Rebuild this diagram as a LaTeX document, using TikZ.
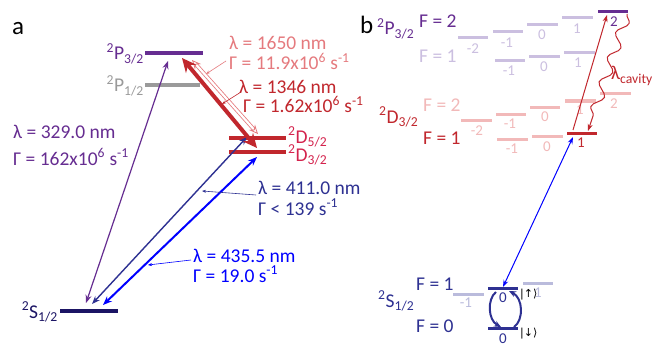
\documentclass[tikz,border=0pt]{standalone}
\usepackage{fontspec}
\setmainfont{Carlito}
\newfontfamily\symfont{DejaVu Sans}
\usetikzlibrary{arrows.meta,decorations.pathmorphing}
\definecolor{cpurple}{HTML}{662D91}
\definecolor{lpurple}{HTML}{CBBFE0}
\definecolor{cgray}{HTML}{9A9A9A}
\definecolor{cred}{HTML}{C1272D}
\definecolor{dred}{HTML}{D4234D}
\definecolor{lred}{HTML}{E57A7E}
\definecolor{pred}{HTML}{F2B9B9}
\definecolor{cnavy}{HTML}{2E3192}
\definecolor{dnavy}{HTML}{1B1464}
\definecolor{lnavy}{HTML}{BABBDC}
\definecolor{cblue}{HTML}{0000FF}
\tikzset{
  lbl/.style={font=\fontsize{19.5}{22}\selectfont, inner sep=0pt},
  mlbl/.style={font=\fontsize{15}{17}\selectfont, inner sep=0pt},
  big/.style={font=\fontsize{25}{28}\selectfont, inner sep=0pt},
  ket/.style={font=\symfont\fontsize{11}{12}\selectfont, inner sep=0pt, anchor=west},
  lev/.style={line width=4pt},
  flev/.style={line width=3pt},
  leader/.style={line width=0.6pt,-{Stealth[length=4pt,width=3pt]}},
}
\begin{document}
\begin{tikzpicture}[x=1pt,y=-1pt]
\path[use as bounding box,fill=white] (0,0) rectangle (667,345);
% ===== panel a =====
\node[big,anchor=base west] (la) at (12,35) {a};
% levels
\draw[lev,cpurple] (145,53) coordinate (p3l) -- (203,53) coordinate (p3r);
\draw[lev,cgray] (145,85) coordinate (p1l) -- (200,85) coordinate (p1r);
\draw[lev,cred] (229,138) coordinate (d5l) -- (286,138) coordinate (d5r);
\draw[lev,cred] (229,152) coordinate (d3l) -- (286,152) coordinate (d3r);
\draw[lev,dnavy] (60,311) coordinate (sl) -- (118,311) coordinate (sr);
\node[lbl,anchor=base east,text=cpurple] (tp3) at (144,60) {\textsuperscript{2}P\textsubscript{3/2}};
\node[lbl,anchor=base east,text=cgray] (tp1) at (144,92) {\textsuperscript{2}P\textsubscript{1/2}};
\node[lbl,anchor=base west,text=dred] (td5) at (288,143) {\textsuperscript{2}D\textsubscript{5/2}};
\node[lbl,anchor=base west,text=dred] (td3) at (288,161) {\textsuperscript{2}D\textsubscript{3/2}};
\node[lbl,anchor=base east,text=dnavy] (ts) at (58,318) {\textsuperscript{2}S\textsubscript{1/2}};
% arrow end points
\coordinate (a329b) at (86,303); \coordinate (a329t) at (168,61);
\coordinate (a411b) at (92,304); \coordinate (a411t) at (247,137);
\coordinate (a435b) at (103,305); \coordinate (a435t) at (257,157);
\coordinate (a1346t) at (182,58); \coordinate (a1346b) at (257,148);
\coordinate (a1650t) at (192,60); \coordinate (a1650b) at (258,134);
% transitions
\draw[cpurple,line width=1.2pt,{Stealth[length=8pt,width=6pt]}-{Stealth[length=8pt,width=6pt]}] (a329b) -- (a329t);
\draw[cnavy,line width=1.4pt,{Stealth[length=8pt,width=6pt]}-{Stealth[length=8pt,width=6pt]}] (a411b) -- (a411t);
\draw[cblue,line width=2pt,{Stealth[length=9pt,width=7pt]}-{Stealth[length=9pt,width=7pt]}] (a435b) -- (a435t);
\draw[lred,line width=0.8pt,double=white,double distance=2.2pt,{Stealth[open,length=9pt,width=8pt]}-{Stealth[open,length=9pt,width=8pt]}] (a1650t) -- (a1650b);
\draw[cred,line width=4pt,{Stealth[length=14pt,width=13pt]}-{Stealth[length=14pt,width=13pt]}] (a1346t) -- (a1346b);
% labels
\node[lbl,anchor=base west,text=lred] (l1650) at (229,50) {λ = 1650 nm};
\node[lbl,anchor=base west,text=lred] (g1650) at (229,70) {Γ = 11.9x10\textsuperscript{6} s\textsuperscript{-1}};
\node[lbl,anchor=base west,text=cred] (l1346) at (239,94) {λ = 1346 nm};
\node[lbl,anchor=base west,text=cred] (g1346) at (243,113) {Γ = 1.62x10\textsuperscript{6} s\textsuperscript{-1}};
\node[lbl,anchor=base west,text=cpurple] (l329) at (13,138) {λ = 329.0 nm};
\node[lbl,anchor=base west,text=cpurple] (g329) at (13,165) {Γ = 162x10\textsuperscript{6} s\textsuperscript{-1}};
\node[lbl,anchor=base west,text=cnavy] (l411) at (258,194) {λ = 411.0 nm};
\node[lbl,anchor=base west,text=cnavy] (g411) at (258,215) {Γ < 139 s\textsuperscript{-1}};
\node[lbl,anchor=base west,text=cblue] (l435) at (193,262) {λ = 435.5 nm};
\node[lbl,anchor=base west,text=cblue] (g435) at (193,282) {Γ = 19.0 s\textsuperscript{-1}};
% leaders
\coordinate (k1650a) at (226,61); \coordinate (k1650b) at (206,74);
\coordinate (k1346a) at (241,92); \coordinate (k1346b) at (222,104);
\coordinate (k411a) at (256,195); \coordinate (k411b) at (202,191);
\coordinate (k435a) at (191,260); \coordinate (k435b) at (148,265);
\draw[leader,lred] (k1650a) -- (k1650b);
\draw[leader,cred] (k1346a) -- (k1346b);
\draw[leader,cnavy] (k411a) -- (k411b);
\draw[leader,cblue] (k435a) -- (k435b);
% ===== panel b =====
\node[big,anchor=base west] (lb) at (360,34) {b};
\node[lbl,anchor=base west,text=cpurple] (bp3) at (377,35) {\textsuperscript{2}P\textsubscript{3/2}};
\node[lbl,anchor=base west,text=cpurple] (bpF2) at (419,28) {F = 2};
\node[lbl,anchor=base west,text=lpurple] (bpF1) at (419,63) {F = 1};
% P F=2
\draw[flev,lpurple] (458,38) coordinate (pa1) -- (488,38) coordinate (pa2);
\draw[flev,lpurple] (493,32) coordinate (pb1) -- (523,32) coordinate (pb2);
\draw[flev,lpurple] (527,25) coordinate (pc1) -- (558,25) coordinate (pc2);
\draw[flev,lpurple] (562,18) coordinate (pd1) -- (593,18) coordinate (pd2);
\draw[flev,cpurple] (598,12) coordinate (pe1) -- (628,12) coordinate (pe2);
\node[mlbl,text=lpurple] (mpa) at (473,49) {-2};
\node[mlbl,text=lpurple] (mpb) at (507,43) {-1};
\node[mlbl,text=lpurple] (mpc) at (542,35) {0};
\node[mlbl,text=lpurple] (mpd) at (577,29) {1};
\node[mlbl,text=cpurple] (mpe) at (614,22) {2};
% P F=1
\draw[flev,lpurple] (495,61) coordinate (pf1) -- (525,61) coordinate (pf2);
\draw[flev,lpurple] (529,57) coordinate (pg1) -- (560,57) coordinate (pg2);
\draw[flev,lpurple] (564,53) coordinate (ph1) -- (595,53) coordinate (ph2);
\node[mlbl,text=lpurple] (mpf) at (509,71) {-1};
\node[mlbl,text=lpurple] (mpg) at (544,67) {0};
\node[mlbl,text=lpurple] (mph) at (578,63) {1};
% D3/2
\node[lbl,anchor=base west,text=cred] (bd3) at (379,123) {\textsuperscript{2}D\textsubscript{3/2}};
\node[lbl,anchor=base west,text=pred] (bdF2) at (423,111) {F = 2};
\node[lbl,anchor=base west,text=cred] (bdF1) at (423,144) {F = 1};
\draw[flev,pred] (461,120) coordinate (da1) -- (492,120) coordinate (da2);
\draw[flev,pred] (496,114) coordinate (db1) -- (526,114) coordinate (db2);
\draw[flev,pred] (530,107) coordinate (dc1) -- (560,107) coordinate (dc2);
\draw[flev,pred] (565,101) coordinate (dd1) -- (596,101) coordinate (dd2);
\draw[flev,pred] (600,94) coordinate (de1) -- (631,94) coordinate (de2);
\node[mlbl,text=pred] (mda) at (477,131) {-2};
\node[mlbl,text=pred] (mdb) at (510,124) {-1};
\node[mlbl,text=pred] (mdc) at (545,117) {0};
\node[mlbl,text=pred] (mdd) at (580,110) {1};
\node[mlbl,text=pred] (mde) at (614,104) {2};
\draw[flev,pred] (497,139) coordinate (df1) -- (528,139) coordinate (df2);
\draw[flev,pred] (532,136) coordinate (dg1) -- (563,136) coordinate (dg2);
\draw[flev,cred] (567,133) coordinate (dh1) -- (597,133) coordinate (dh2);
\node[mlbl,text=pred] (mdf) at (512,149) {-1};
\node[mlbl,text=pred] (mdg) at (547,147) {0};
\node[mlbl,text=cred] (mdh) at (581,143) {1};
% S1/2
\node[lbl,anchor=base west,text=cnavy] (bs) at (378,307) {\textsuperscript{2}S\textsubscript{1/2}};
\node[lbl,anchor=base west,text=cnavy] (bsF1) at (416,290) {F = 1};
\node[lbl,anchor=base west,text=cnavy] (bsF0) at (416,332) {F = 0};
\draw[flev,lnavy] (453,294) coordinate (sa1) -- (484,294) coordinate (sa2);
\draw[flev,cnavy] (488,288) coordinate (sb1) -- (518,288) coordinate (sb2);
\draw[flev,lnavy] (523,283) coordinate (sc1) -- (553,283) coordinate (sc2);
\draw[flev,cnavy] (488,328) coordinate (sd1) -- (518,328) coordinate (sd2);
\node[mlbl,text=lnavy] (msa) at (466,303) {-1};
\node[mlbl,text=cnavy] (msb) at (503,298) {0};
\node[mlbl,text=lnavy] (msc) at (538,293) {1};
\node[mlbl,text=cnavy,anchor=base] (msd) at (503,343) {0};
\node[ket] (kup) at (520,295) {|↑⟩};
\node[ket] (kdn) at (520,334) {|↓⟩};
% transitions in b
\coordinate (rb) at (573,130); \coordinate (rt) at (607,15);
\draw[cred,line width=1pt,-{Stealth[length=7pt,width=5pt]}] (rb) -- (rt);
\coordinate (wt) at (627,14); \coordinate (wb) at (588,131);
\draw[cred,line width=1pt,decorate,decoration={snake,amplitude=5pt,segment length=26pt,post length=8pt},-{Stealth[length=7pt,width=5pt]}] (wt) -- (wb);
\node[lbl,anchor=base west,text=cred] (lcav) at (611,80) {λ\textsubscript{cavity}};
\coordinate (bbt) at (573,137); \coordinate (bbb) at (503,287);
\draw[cblue,line width=1pt,{Stealth[length=7pt,width=5pt]}-{Stealth[length=7pt,width=5pt]}] (bbb) -- (bbt);
\coordinate (cl1) at (496,292); \coordinate (cl2) at (501,327);
\coordinate (cr1) at (514,327); \coordinate (cr2) at (509,291);
\draw[cnavy,line width=2pt,-{Stealth[length=7pt,width=6pt]}] (cl1) .. controls (487,299) and (488,320) .. (cl2);
\draw[cnavy,line width=2pt,-{Stealth[length=7pt,width=6pt]}] (cr1) .. controls (524,320) and (523,298) .. (cr2);
\end{tikzpicture}
\end{document}
